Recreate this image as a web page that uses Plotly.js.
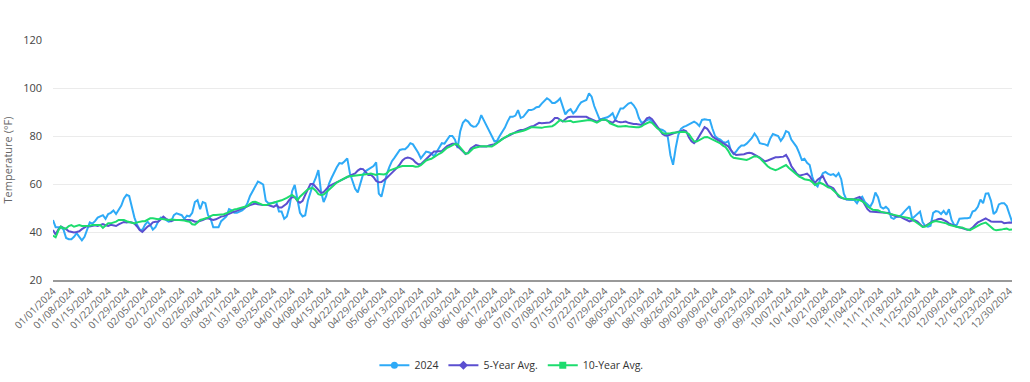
<!DOCTYPE html>
<html>
<head>
<meta charset="utf-8">
<script src="https://cdn.plot.ly/plotly-3.0.1.min.js"></script>
<style>html,body{margin:0;padding:0;background:#fff;}#chart{width:1030px;height:382px;}</style>
</head>
<body>
<div id="chart"></div>
<script>
const seriesNames = ["2024", "5-Year Avg.", "10-Year Avg."];

const temp2024 = [
45, 42, 42, 42, 41, 37.5, 37, 37, 38, 39.5,
38, 36.5, 38, 41, 44, 43.5, 44.5, 46, 46.5, 47,
45.5, 47.5, 48, 49, 47.5, 49, 51, 54, 55.5, 55,
50.5, 46, 43, 41, 40.8, 43, 44.3, 43, 41, 42,
44.3, 46, 45.8, 45, 44.3, 44.5, 47, 47.8, 47.5, 47,
45.5, 46.8, 46.5, 48, 52.5, 53.3, 49.5, 52.5, 52, 47,
45.5, 42, 42, 42, 44.5, 45.5, 46.5, 49.5, 49, 48,
48, 48.5, 49, 50, 52, 55, 57, 59.5, 61, 60.5,
59.8, 53, 52, 52, 52.3, 52.5, 48.5, 48.5, 45.5, 46.5,
50.5, 57, 59.6, 53, 48, 46.5, 47, 53, 57, 60,
62.5, 65.8, 57, 52.5, 55, 60, 62.5, 65, 67, 68.7,
68.5, 69.5, 70.7, 64.5, 61, 58, 56.5, 60, 64, 65.4,
66, 66.7, 67.5, 69, 56, 54.7, 59, 64, 67, 69.5,
71, 72.5, 74.2, 74.5, 74.5, 75.5, 77, 76.5, 75, 73,
70.7, 72, 73.5, 73.2, 72.8, 71.5, 73.5, 75.5, 77, 76.8,
78.5, 80, 80, 78.5, 75, 82, 85.5, 86.7, 86, 84.5,
83.9, 84, 85.5, 88.7, 86.5, 84.5, 82, 80, 77.8, 78,
80, 81.8, 83.5, 86, 88, 88, 88.5, 90.8, 87.5, 88,
89.5, 90.8, 90.8, 91.2, 92, 92.2, 93.5, 94.8, 95.7, 95,
93.8, 93.8, 94.5, 95.7, 92, 89, 90.5, 91.2, 89.4, 90.5,
92.5, 94, 94.5, 95, 97.8, 96.4, 92.5, 89.5, 87, 87.2,
87.5, 87.8, 88.5, 89.5, 86.7, 89.5, 91.5, 91.5, 92.5, 93.5,
93.9, 92.8, 91, 87.5, 85.5, 86, 86.7, 87, 86, 84.5,
83.5, 82.8, 82.5, 81.8, 79.5, 72, 68, 75, 80.5, 83,
83.8, 84.2, 84.8, 85.5, 86, 85.3, 84.2, 86.7, 87, 86.8,
86.7, 83, 80, 79, 78.5, 77.5, 77.2, 77.9, 74, 72.5,
73.5, 75, 76, 76, 76.8, 78, 79.2, 81, 79.5, 77,
76.8, 76.5, 76, 79, 80.8, 80.4, 80, 78, 79.5, 82,
81.5, 78.5, 76.8, 75.5, 73, 70, 70.5, 68.8, 67.9, 63,
60, 59, 62, 64.5, 65, 64.2, 63.8, 64.1, 63.2, 64.5,
62, 56, 53.5, 53.3, 53.3, 53.3, 52, 54, 54.7, 52.5,
51.5, 50.5, 52.5, 56.5, 54.5, 50.5, 49.8, 50.5, 49.5, 46,
45.5, 46.4, 46.4, 47.2, 48.5, 49.5, 50.8, 45.5, 46.5, 47.8,
48.5, 44, 42.5, 42.2, 42.6, 48, 48.7, 48.5, 47.5, 48.8,
47.2, 49.5, 45, 42.9, 43, 45.5, 45.7, 45.7, 45.7, 46,
48.5, 49, 50.5, 53.5, 52, 56, 56.1, 53, 47.5, 48.5,
51.5, 52, 52, 50.8, 47.5, 44.3
];

const avg5Year = [
40.8, 39, 41, 42.3, 41.7, 41.2, 40.3, 40, 39.8, 40,
40.3, 41.2, 42, 42.5, 42.3, 42.5, 42.8, 42.5, 43, 43.3,
42.8, 42.5, 43, 42.8, 42.5, 43.2, 43.8, 44.2, 44, 44.2,
44, 43.5, 42.3, 40.8, 40, 41, 42.3, 42.8, 44, 44.3,
44.3, 45.2, 46.4, 45.5, 45, 44.5, 45, 45, 45, 45.2,
45, 45, 45, 44.8, 44.3, 44.3, 44.5, 45, 45.5, 45.7,
45.3, 45, 45.3, 46, 46.4, 46.6, 47.1, 47.6, 48.3, 48.5,
48.8, 49.2, 49.7, 50.2, 50.7, 51.2, 51.6, 51.9, 51.6, 51.3,
51.2, 51.2, 51.2, 50.8, 50.5, 51.2, 50.2, 50.2, 51, 51.9,
53.5, 54.5, 54.5, 53, 52.2, 53, 55.5, 57.8, 60, 60,
58.8, 57.5, 56.3, 56.6, 58, 59, 59.6, 60.1, 60.7, 61.2,
61.8, 62.3, 62.9, 63.5, 64, 64.4, 65.6, 66.3, 66.2, 65,
63.8, 63.8, 62.8, 61.3, 60.7, 60.8, 61.5, 62.5, 63.6, 64.6,
65.8, 66.8, 68.2, 69.8, 70.7, 71, 70.8, 70.2, 69, 68.2,
68.2, 69.3, 70.5, 71.6, 72.8, 73.5, 73.5, 73.5, 73.8, 74.8,
75.8, 76.3, 76.8, 76.8, 75.6, 74.6, 73.6, 72.5, 73, 74.8,
75.6, 76.2, 76, 75.6, 75.6, 75.6, 76.1, 76.3, 76.6, 77.2,
78.2, 78.8, 79.3, 79.9, 80.4, 81, 81.5, 82.1, 82.5, 82.5,
83, 83.6, 84, 84.2, 85, 85.5, 85.3, 85.3, 85.3, 85.6,
86.3, 87.5, 87.5, 86.9, 86, 87, 87.8, 88, 88, 88,
87.8, 87.8, 88, 88, 87.4, 87, 86.5, 86, 86.5, 86.9,
86.8, 86.5, 86, 85.5, 86.5, 86, 85.7, 85.8, 86, 85.5,
85.2, 85, 85, 84.7, 84.6, 85.8, 87.4, 87.8, 87, 85.5,
83.8, 82.6, 80.8, 80.2, 80.2, 80.6, 81, 81.6, 81.8, 82,
82.5, 82, 79.5, 77.8, 77, 78.2, 80.2, 81.8, 83.7, 83,
81.2, 79.8, 79, 78.4, 77.8, 77.2, 76.6, 75.7, 74.2, 72.8,
72.1, 72.1, 72.1, 72.4, 72.8, 73, 72.8, 72.3, 71.6, 71,
70.2, 69.4, 69.8, 70.2, 70.7, 71.1, 71.1, 71.2, 71.4, 72.1,
70.2, 67.5, 65.8, 64.4, 63.5, 63.6, 64, 64.3, 63.3, 61.5,
60.4, 61.8, 62.5, 63.3, 61, 59.2, 58.8, 58.2, 56.5, 54.8,
54.2, 53.8, 53.6, 53.6, 53.6, 53.8, 54.2, 54.6, 53.2, 51.2,
49.5, 48.5, 48.4, 48.2, 48.1, 48.3, 47.9, 48, 47.9, 47.4,
47, 46.5, 46.6, 46.2, 45.5, 45, 44.4, 44.8, 44.9, 44.3,
43.3, 42.2, 42.5, 43.2, 43.9, 44.6, 44.9, 45.4, 45.5, 45,
44.4, 43.6, 43.1, 42.6, 42.2, 42, 41.7, 41.2, 40.9, 41.1,
41.8, 43, 44, 44.5, 45.2, 45.7, 45, 44.4, 44.3, 44.3,
44.3, 44.3, 43.7, 43.9, 44, 43.8
];

const avg10Year = [
38.5, 37.8, 40.5, 42.2, 41.5, 41.5, 42.5, 42.9, 42.2, 42.5,
42.9, 42.5, 42.5, 42.5, 42.6, 42.9, 42.9, 43, 42.9, 41.7,
42.5, 43.6, 43.6, 43.8, 44.3, 45, 45, 45, 44.5, 44.3,
44, 43.6, 44, 44.3, 44.5, 44.5, 45, 45.7, 45.7, 45.5,
45.3, 45.5, 45.3, 45, 45, 45.2, 45, 45, 45, 45,
44.8, 44.5, 44.3, 43.2, 43, 44, 45, 45.3, 45.6, 46,
46.6, 47.1, 47.1, 47.1, 47.1, 47.4, 47.8, 48.3, 49, 49.4,
49.6, 49.9, 50.1, 50.3, 50.8, 51.8, 52.5, 52.6, 52.2, 51.6,
51.2, 51.2, 51.6, 52, 52.3, 52.6, 52.9, 53.2, 53.6, 54.2,
54.8, 55.4, 54.6, 53.2, 54.7, 55.8, 57, 57.8, 58.2, 58.2,
57.2, 55.8, 55.4, 55.6, 56.6, 57.6, 58.9, 59.9, 60.6, 61.2,
61.8, 62.3, 63, 63.2, 63.3, 63.6, 63.8, 63.8, 63.8, 63.8,
64.2, 64.4, 64.2, 63.8, 64.2, 64, 64, 64.4, 65.6, 66,
66.5, 67, 67.2, 67.5, 67.5, 67.4, 67.6, 67.5, 67.2, 67.3,
67.8, 68.8, 69.8, 70.2, 70.5, 71.2, 72.1, 72.6, 73.2, 74.2,
75.1, 75.6, 76.1, 76.7, 76.5, 75.2, 74.3, 72.6, 72.8, 74,
74.9, 75.2, 75.5, 75.7, 75.7, 75.6, 75.4, 75.6, 76.3, 77.1,
78.1, 78.8, 79.4, 80, 80.8, 81.1, 81.3, 81.6, 81.9, 82.2,
82.6, 83.2, 83.6, 83.6, 83.6, 83.3, 83.4, 83.7, 83.9, 83.9,
84.1, 84.7, 85.8, 86.7, 86.2, 86, 86.2, 86.3, 85.7, 85.9,
86.1, 86.2, 86.3, 86.6, 86.7, 86.5, 86.1, 85.6, 86.2, 86.8,
86.8, 86.4, 85.3, 84.8, 84.3, 84, 84, 84.2, 84.2, 84,
83.8, 83.6, 83.6, 83.6, 84, 84.8, 85.4, 85.8, 85.5, 84.3,
83.2, 82.4, 81.3, 80.9, 80.9, 81.2, 81.4, 81.5, 81.7, 81.8,
81.8, 81.5, 80.8, 79.2, 77.8, 77.7, 78.2, 79, 79.5, 79.6,
79.1, 78.4, 77.9, 77.3, 76.9, 76, 75.3, 73.8, 71.8, 70.9,
70.7, 70.7, 70.5, 70.2, 70, 70.5, 71.1, 71.6, 71.5, 70.8,
69.7, 68.5, 67.4, 66.6, 66.1, 65.8, 66.2, 66.8, 67.3, 67.9,
66.8, 65.8, 64.8, 63.8, 63.1, 62.6, 62, 61.8, 61.6, 60.8,
59.6, 60.2, 60.5, 60, 59.1, 58.6, 58.3, 57.4, 56.3, 55.2,
54.4, 53.9, 53.6, 53.6, 53.6, 53.6, 53.4, 53.3, 52.8, 52,
50.6, 49.8, 49.3, 49.2, 49.1, 48.5, 48.2, 47.9, 47.7, 47.3,
47.1, 47, 46.5, 46.4, 46.2, 46.1, 45.7, 45.2, 44.3, 43.5,
42.9, 42.1, 42.3, 43, 43.7, 44.3, 44.6, 44.4, 44.1, 43.8,
43.6, 43, 42.7, 42.4, 42.2, 41.9, 41.9, 41.4, 41, 40.8,
41.4, 42.2, 42.8, 43.2, 43.6, 43.9, 43, 42, 41.1, 40.7,
40.7, 41, 41.3, 41.4, 40.9, 41
];

// Category dates: every day of 2024
const dates = [];
for (let i = 0; i < 366; i++) {
  const d = new Date(Date.UTC(2024, 0, 1 + i));
  dates.push(d.toISOString().slice(0, 10));
}

const colors = ["#2eaaf7", "#5b4fd0", "#1ddc6e"];
const symbols = ["circle", "diamond", "square"];
const values = [temp2024, avg5Year, avg10Year];

const traces = [];
values.forEach((v, i) => {
  traces.push({
    type: "scatter", mode: "lines", x: dates, y: v, name: seriesNames[i],
    line: {color: colors[i], width: 2}, showlegend: false, hoverinfo: "x+y+name"
  });
});
values.forEach((v, i) => {
  traces.push({
    type: "scatter", mode: "lines+markers", x: [null], y: [null], name: seriesNames[i],
    line: {color: colors[i], width: 2},
    marker: {color: colors[i], symbol: symbols[i], size: 7},
    showlegend: true
  });
});

const layout = {
  width: 1030, height: 382,
  margin: {l: 53, r: 18, t: 40, b: 102, autoexpand: false},
  paper_bgcolor: "#fff", plot_bgcolor: "#fff",
  font: {family: "Open Sans, sans-serif", color: "#444"},
  showlegend: true,
  legend: {orientation: "h", x: 0.478, xanchor: "center", y: -0.355, yanchor: "middle",
    itemwidth: 30, font: {size: 10.5, color: "#333"}},
  xaxis: {
    type: "date", automargin: false,
    range: ["2024-01-01", "2024-12-31"],
    tick0: "2024-01-01", dtick: 7 * 86400000,
    tickformat: "%m/%d/%Y", tickangle: -45,
    tickfont: {size: 10, color: "#666"},
    showgrid: false, showline: true, linecolor: "#999", linewidth: 1.5,
    ticks: "", zeroline: false
  },
  yaxis: {
    automargin: false,
    range: [20, 120], dtick: 20, tick0: 20,
    showgrid: true, gridcolor: "#ebebeb", gridwidth: 1,
    zeroline: false, showline: false,
    tickfont: {size: 11, color: "#444"},
    ticklabelstandoff: 10,
    title: {text: "Temperature (°F)", font: {size: 11, color: "#666"}, standoff: 12}
  }
};

Plotly.newPlot("chart", traces, layout, {displayModeBar: false, staticPlot: true});
</script>
</body>
</html>
